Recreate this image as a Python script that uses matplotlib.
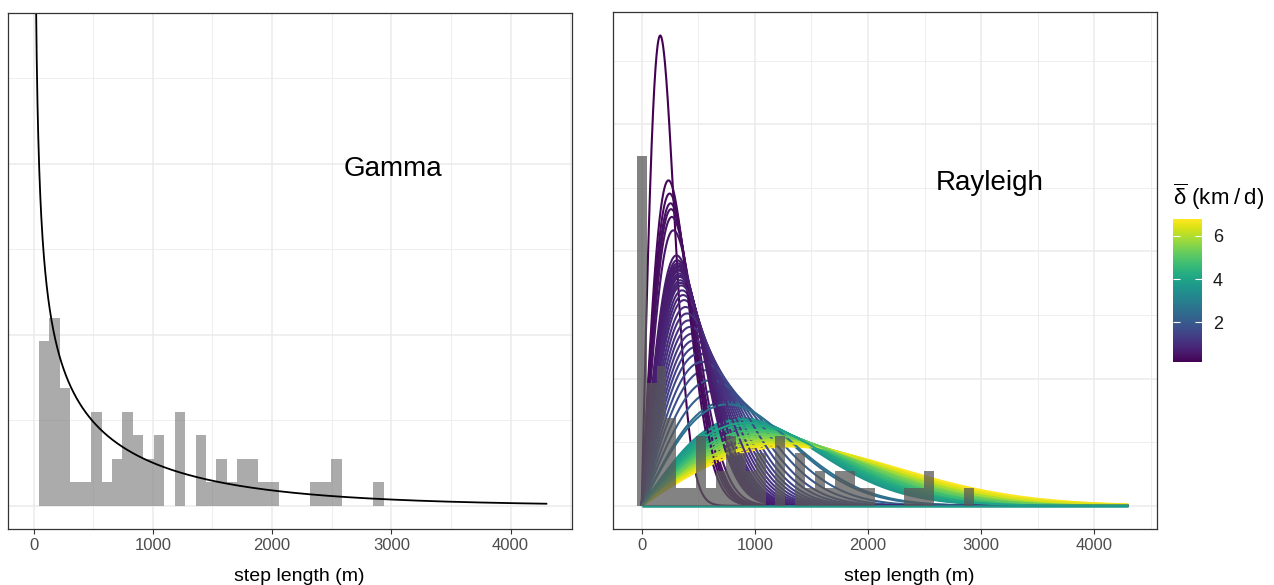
import numpy as np
import matplotlib.pyplot as plt
from matplotlib import cm
from matplotlib.colors import Normalize
from math import gamma as gamma_fn

plt.rcParams['font.family'] = ['Liberation Sans', 'DejaVu Sans']
plt.rcParams['mathtext.fontset'] = 'custom'
plt.rcParams['mathtext.rm'] = 'Liberation Sans'
plt.rcParams['mathtext.it'] = 'Liberation Sans'

# step length histogram (bins of ~88 m, first bin centred on 0 m)
bin_width = 87.6
zero_steps = 20
step_counts = [7, 8, 5, 1, 1, 4, 1, 2, 4, 3, 2, 3, 0, 4, 0, 3, 1, 2, 1, 2,
               2, 1, 1, 0, 0, 0, 1, 1, 2, 0, 0, 0, 1]

# fitted gamma (left panel)
gamma_shape = 0.55
gamma_scale = 1400.0

# rayleigh scale (m) and mean daily displacement (km/d) for each curve
rayleigh_sigma = [164, 237, 247, 255, 260, 267, 280, 308, 314, 318, 321, 323, 326,
                  328, 332, 335, 337, 342, 346, 350, 358, 366, 375, 388, 401,
                  416, 431, 448, 466, 485, 507, 536, 569, 614, 667, 742, 760,
                  880, 893, 905, 918, 930, 943, 955, 968, 980, 993, 1005, 1018,
                  1030, 1043, 1055, 1068, 1080, 1093, 1105, 1118, 1130, 1143,
                  1155, 1168, 1180, 1193, 1205, 1218, 1230, 1243, 1255, 1275, 1300]
rayleigh_delta = [0.15, 0.30, 0.35, 0.40, 0.42, 0.45, 0.50, 0.60, 0.62, 0.65, 0.66, 0.68, 0.69,
                  0.70, 0.72, 0.74, 0.75, 0.78, 0.79, 0.80, 0.85, 0.90, 0.95, 1.00, 1.05,
                  1.10, 1.15, 1.20, 1.30, 1.40, 1.50, 1.60, 1.75, 1.90, 2.10, 2.50, 2.60,
                  3.6, 3.7, 3.8, 3.9, 4.0, 4.1, 4.2, 4.3, 4.4, 4.5, 4.6, 4.7,
                  4.8, 4.9, 5.0, 5.1, 5.2, 5.3, 5.4, 5.5, 5.6, 5.7,
                  5.8, 5.9, 6.0, 6.1, 6.2, 6.3, 6.4, 6.5, 6.6, 6.7, 6.77]
baseline_delta = 3.7

x_max = 4300
x_ticks = [0, 1000, 2000, 3000, 4000]
x_minor = [500, 1500, 2500, 3500, 4500]

counts_all = np.array([zero_steps] + step_counts, dtype=float)
n_steps = counts_all.sum()
edges = -bin_width / 2 + bin_width * np.arange(len(counts_all) + 1)
density = counts_all / (n_steps * bin_width)

xs = np.linspace(0, x_max, 2001)


def gamma_pdf(x, k, theta):
    with np.errstate(divide='ignore'):
        return x ** (k - 1) * np.exp(-x / theta) / (gamma_fn(k) * theta ** k)


def rayleigh_pdf(x, s):
    return x / s ** 2 * np.exp(-x ** 2 / (2 * s ** 2))


W, H = 1274, 585
fig = plt.figure(figsize=(W / 100, H / 100), dpi=100)


def box(l, t, r, b):
    return [l / W, 1 - b / H, (r - l) / W, (b - t) / H]


ax1 = fig.add_axes(box(8, 13, 572, 529.3))
ax2 = fig.add_axes(box(612.7, 12, 1157, 529.3))
cax = fig.add_axes(box(1172.7, 219.3, 1201.7, 362.3))


def style(ax, ytop):
    ax.set_xticks(x_ticks)
    ax.set_xticks(x_minor, minor=True)
    ax.set_yticks(np.arange(0, ytop, 0.001))
    ax.set_yticks(np.arange(0.0005, ytop, 0.001), minor=True)
    ax.grid(which='major', color='#ebebeb', lw=1.1)
    ax.grid(which='minor', color='#ebebeb', lw=0.6)
    ax.set_axisbelow(True)
    ax.tick_params(axis='x', which='major', length=3.6, width=0.8, color='#333333',
                   labelcolor='#4d4d4d', labelsize=12, pad=2.5)
    ax.tick_params(axis='x', which='minor', length=0)
    ax.tick_params(axis='y', which='both', length=0, labelleft=False)
    for sp in ax.spines.values():
        sp.set_color('#333333')
        sp.set_linewidth(0.9)


# left panel: gamma
ax1.bar(edges[1:-1], density[1:], width=bin_width, align='edge',
        color='#7f7f7f', alpha=0.65, linewidth=0)
ax1.plot(xs[1:], gamma_pdf(xs[1:], gamma_shape, gamma_scale), color='black', lw=1.3)
ymax1 = 0.002745
ax1.set_xlim(-215, 4515)
ax1.set_ylim(-0.05 * ymax1, 1.05 * ymax1)
style(ax1, ymax1 * 1.05)
ax1.text(2600, 0.00193, 'Gamma', fontsize=20, ha='left', va='baseline')

# right panel: rayleigh
norm = Normalize(min(rayleigh_delta), max(rayleigh_delta))
cmap = cm.viridis
n = len(rayleigh_sigma)
order = [(i * 29) % n for i in range(n)]
for i in order:
    ax2.plot(xs, rayleigh_pdf(xs, rayleigh_sigma[i]), color=cmap(norm(rayleigh_delta[i])),
             lw=1.5, solid_capstyle='butt')
ax2.hlines(0, 0, x_max, color=cmap(norm(baseline_delta)), lw=1.8)
ax2.bar(edges[:-1], density, width=bin_width, align='edge',
        color='#595959', alpha=0.75, linewidth=0, zorder=3)
ymax2 = max(rayleigh_pdf(np.array(rayleigh_sigma, float), np.array(rayleigh_sigma, float)))
ax2.set_xlim(-256, 4554)
ax2.set_ylim(-0.05 * ymax2, 1.05 * ymax2)
style(ax2, ymax2 * 1.05)
ax2.text(2600, 0.00248, 'Rayleigh', fontsize=20, ha='left', va='baseline')

fig.text(299 / W, 1 - 581 / H, 'step length (m)', fontsize=14, ha='center', va='baseline')
fig.text(909 / W, 1 - 581 / H, 'step length (m)', fontsize=14, ha='center', va='baseline')

# colour bar legend
sm = cm.ScalarMappable(norm=norm, cmap=cmap)
cb = fig.colorbar(sm, cax=cax, ticks=[2, 4, 6])
cb.outline.set_visible(False)
cax.yaxis.set_ticks_position('both')
cax.tick_params(direction='in', length=5, width=0.8, color='white', labelsize=13,
                labelcolor='#1a1a1a', labelleft=False, labelright=True, pad=8)
fig.text(1172.7 / W, 1 - 205 / H, '$\\overline{\\delta}$ (km\u2009/\u2009d)', fontsize=16,
         ha='left', va='baseline')

fig.savefig('out.png', dpi=100)
